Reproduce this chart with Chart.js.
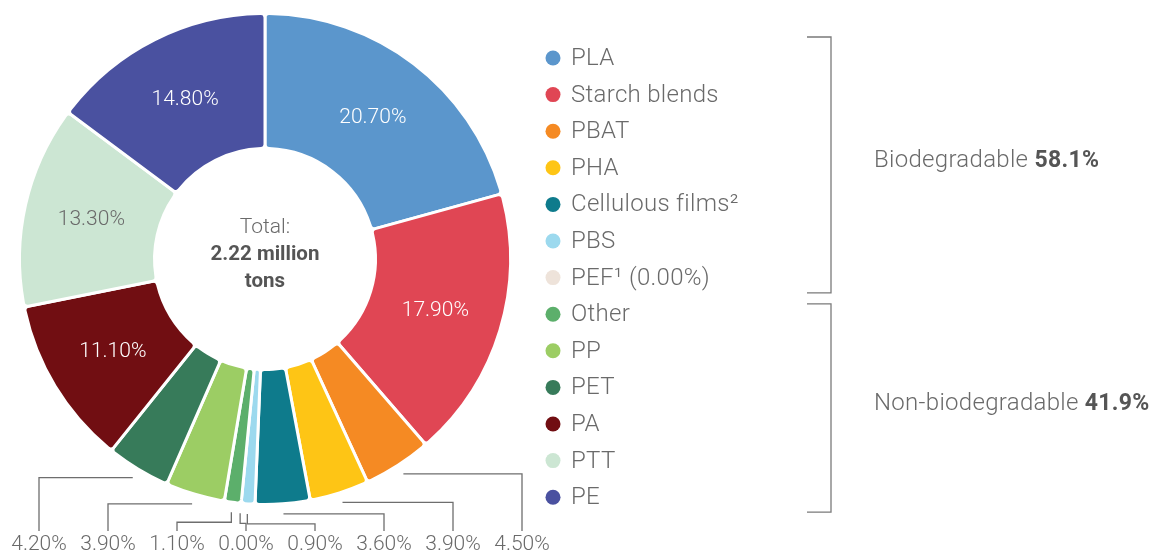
<!DOCTYPE html>
<html>
<head>
<meta charset="utf-8">
<script src="https://cdn.jsdelivr.net/npm/chart.js@4.4.1/dist/chart.umd.min.js"></script>
<style>
  html, body { margin: 0; padding: 0; background: #fff; }
  #wrap { position: relative; width: 1159px; height: 554px; }
</style>
</head>
<body>
<div id="wrap"><canvas id="graficoPlasticos"></canvas></div>
<script>
// data
const categorias = ['PLA', 'Starch blends', 'PBAT', 'PHA', 'Cellulous films²', 'PBS', 'PEF¹',
    'Other', 'PP', 'PET', 'PA', 'PTT', 'PE'];
const valores = [20.7, 17.9, 4.5, 3.9, 3.6, 0.9, 0.0, 1.1, 3.9, 4.2, 11.1, 13.3, 14.8];
const cores = ['#5b96cc', '#e04654', '#f58a23', '#fec515', '#0e7b8c', '#9cd9ee', '#eee3da',
    '#5caf6b', '#9ccd64', '#377b5a', '#710e12', '#cce6d3', '#4a51a0'];
const grupos = ['Biodegradable', 'Non-biodegradable'];
const gruposPercent = [58.1, 41.9];
const gruposLinhas = [7, 6];
const totalTexto = ['Total:', '2.22 million', 'tons'];

const cinza = '#6a6a6a';
const fonteLeve = (px) => '300 ' + px + 'px Roboto, "Noto Sans", sans-serif';
const fonteForte = (px) => '700 ' + px + 'px Roboto, "Noto Sans", sans-serif';

function ehClaro(hex) {
    let r = parseInt(hex.substr(1, 2), 16), g = parseInt(hex.substr(3, 2), 16), b = parseInt(hex.substr(5, 2), 16);
    return (0.299 * r + 0.587 * g + 0.114 * b) > 190;
}

const extras = {
    id: 'extras',
    afterDraw(chart) {
        const ctx = chart.ctx;
        const arcos = chart.getDatasetMeta(0).data;
        const cx = arcos[0].x, cy = arcos[0].y;
        ctx.save();
        ctx.textAlign = 'center';
        ctx.textBaseline = 'middle';

        // rotulos dentro das fatias grandes
        arcos.forEach((arco, i) => {
            if (valores[i] < 10) return;
            let meio = (arco.startAngle + arco.endAngle) / 2;
            let r = (arco.innerRadius + arco.outerRadius) / 2;
            ctx.font = fonteLeve(21);
            ctx.fillStyle = ehClaro(cores[i]) ? cinza : '#ffffff';
            ctx.fillText(valores[i].toFixed(2) + '%', cx + r * Math.cos(meio), cy + r * Math.sin(meio));
        });

        // texto do centro
        ctx.fillStyle = cinza;
        ctx.font = fonteLeve(21);
        ctx.fillText(totalTexto[0], cx, cy - 31);
        ctx.fillStyle = '#555555';
        ctx.font = fonteForte(20.5);
        ctx.fillText(totalTexto[1], cx, cy - 4);
        ctx.fillText(totalTexto[2], cx, cy + 23);

        // rotulos de baixo com linhas
        let pequenos = [];
        valores.forEach((v, i) => { if (v < 10) pequenos.push(i); });
        pequenos.reverse();
        const rotuloY = 545, topoRotulo = 531, passo = 69, inicioX = 39;
        ctx.strokeStyle = '#6e6e6e';
        ctx.lineWidth = 1.3;
        pequenos.forEach((i, k) => {
            let arco = arcos[i];
            let meio = (arco.startAngle + arco.endAngle) / 2;
            let r = arco.outerRadius + 10;
            let ax = cx + r * Math.cos(meio), ay = cy + r * Math.sin(meio);
            let lx = inicioX + k * passo;
            ctx.beginPath();
            ctx.moveTo(ax, ay);
            if (valores[i] < 2) {
                let cotovelo = ay + 10;
                ctx.lineTo(ax, cotovelo);
                ctx.lineTo(lx, cotovelo);
            } else {
                ctx.lineTo(lx, ay);
            }
            ctx.lineTo(lx, topoRotulo);
            ctx.stroke();
            ctx.fillStyle = cinza;
            ctx.font = fonteLeve(21);
            ctx.fillText(valores[i].toFixed(2) + '%', lx, rotuloY);
        });

        // legenda
        const legX = 553, legY = 58, legPasso = 36.6;
        ctx.textAlign = 'left';
        ctx.letterSpacing = '0.3px';
        categorias.forEach((nome, i) => {
            let y = legY + i * legPasso;
            ctx.fillStyle = cores[i];
            ctx.beginPath();
            ctx.arc(legX, y, 7.5, 0, Math.PI * 2);
            ctx.fill();
            ctx.fillStyle = cinza;
            ctx.font = fonteLeve(24);
            let texto = valores[i] === 0 ? nome + ' (' + valores[i].toFixed(2) + '%)' : nome;
            ctx.fillText(texto, legX + 18, y + 1);
        });

        // colchetes dos grupos
        let linha = 0;
        grupos.forEach((g, gi) => {
            let primeira = linha, ultima = linha + gruposLinhas[gi] - 1;
            linha += gruposLinhas[gi];
            let topo = gi === 0 ? legY + primeira * legPasso - 21 : legY + (primeira - 0.5) * legPasso + 8;
            let base = gi === grupos.length - 1 ? legY + ultima * legPasso + 15 : legY + (ultima + 0.5) * legPasso - 3;
            ctx.strokeStyle = '#7a7a7a';
            ctx.lineWidth = 1.3;
            ctx.beginPath();
            ctx.moveTo(807, topo);
            ctx.lineTo(831, topo);
            ctx.lineTo(831, base);
            ctx.lineTo(807, base);
            ctx.stroke();
            let ty = (topo + base) / 2 - 4;
            ctx.fillStyle = cinza;
            ctx.font = fonteLeve(24);
            let parte1 = g + ' ';
            ctx.fillText(parte1, 874, ty);
            let w = ctx.measureText(parte1).width;
            ctx.fillStyle = '#555555';
            ctx.font = fonteForte(23);
            ctx.fillText(gruposPercent[gi].toFixed(1) + '%', 874 + w, ty);
        });
        ctx.restore();
    }
};

function criaGrafico() {
    new Chart(document.getElementById('graficoPlasticos'), {
        type: 'doughnut',
        data: {
            labels: categorias,
            datasets: [{
                data: valores,
                backgroundColor: cores,
                borderColor: '#ffffff',
                borderWidth: 3,
                borderRadius: 4
            }]
        },
        options: {
            responsive: true,
            maintainAspectRatio: false,
            animation: false,
            cutout: '45%',
            layout: { padding: { left: 18, top: 12, right: 647, bottom: 48 } },
            plugins: { legend: { display: false }, tooltip: { enabled: false } }
        },
        plugins: [extras]
    });
}

document.fonts.load(fonteLeve(20)).then(criaGrafico, criaGrafico);
</script>
</body>
</html>
